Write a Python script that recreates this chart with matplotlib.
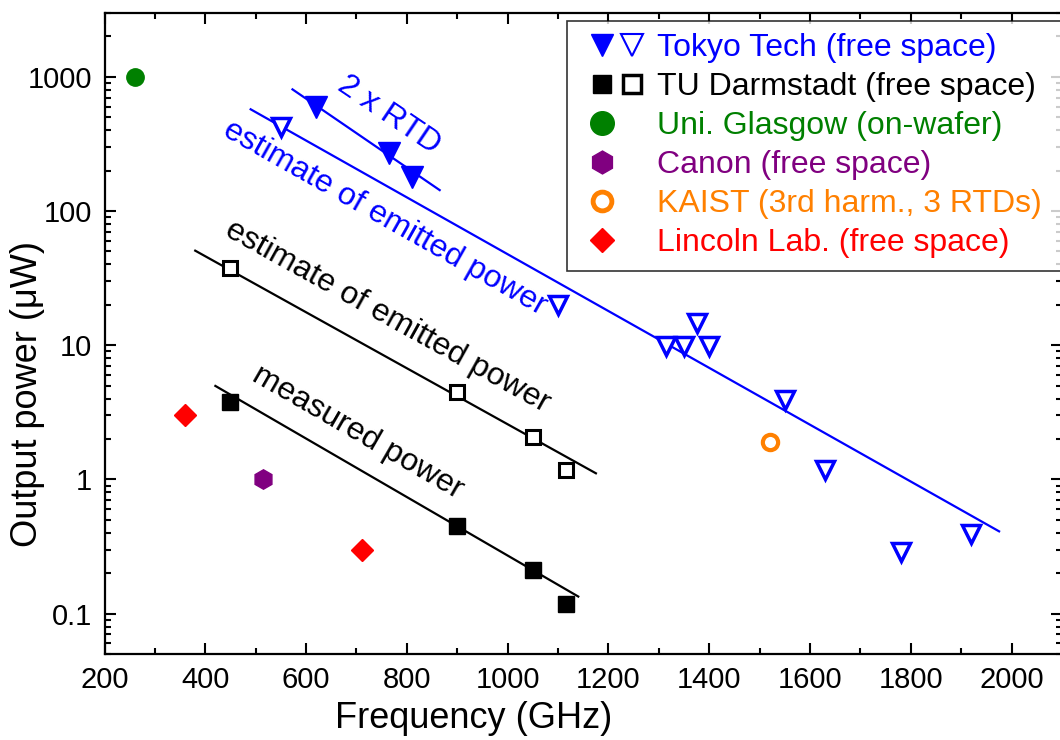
import numpy as np
import matplotlib
matplotlib.use("Agg")
import matplotlib.pyplot as plt
from matplotlib.lines import Line2D
from matplotlib.legend_handler import HandlerTuple
from matplotlib.ticker import LogLocator, MultipleLocator, FixedLocator, FixedFormatter

plt.rcParams['font.family'] = ['Liberation Sans', 'DejaVu Sans']

# Tokyo Tech
tokyo_f_filled = [620, 765, 810]
tokyo_p_filled = [600, 270, 180]
tokyo_f_open = [550, 1100, 1315, 1350, 1375, 1400, 1550, 1630, 1780, 1920]
tokyo_p_open = [420, 20, 9.8, 9.8, 14.7, 9.8, 3.9, 1.18, 0.29, 0.39]

# TU Darmstadt
tud_f = [450, 900, 1050, 1115]
tud_p_filled = [3.8, 0.45, 0.21, 0.117]
tud_p_open = [37.5, 4.5, 2.07, 1.18]

glasgow_f, glasgow_p = [260], [1000]
canon_f, canon_p = [515], [1.0]
kaist_f, kaist_p = [1520], [1.9]
lincoln_f, lincoln_p = [360, 710], [3.0, 0.3]

# guide lines (start, end)
rtd_line_f, rtd_line_p = [573, 865], [805, 143]
tokyo_line_f, tokyo_line_p = [490, 1975], [572, 0.41]
tud_est_line_f, tud_est_line_p = [380, 1175], [50.6, 1.11]
tud_meas_line_f, tud_meas_line_p = [420, 1140], [4.97, 0.134]

blue = '#0000FF'
green = '#008000'
purple = '#800080'
orange = '#FF8000'
red = '#FF0000'

W, H = 1060, 740
fig = plt.figure(figsize=(10.6, 7.4), dpi=100)
ax = fig.add_axes([104.5 / W, 1 - 654 / H, 957.6 / W, (654 - 12.7) / H])

ax.plot(rtd_line_f, rtd_line_p, color=blue, lw=1.6)
ax.plot(tokyo_line_f, tokyo_line_p, color=blue, lw=1.6)
ax.plot(tud_est_line_f, tud_est_line_p, color='black', lw=1.6)
ax.plot(tud_meas_line_f, tud_meas_line_p, color='black', lw=1.6)

ax.plot(tokyo_f_filled, tokyo_p_filled, 'v', color=blue, ms=16.5, ls='none')
ax.plot(tokyo_f_open, tokyo_p_open, 'v', mfc='white', mec=blue, mew=2.5, ms=13, ls='none')
ax.plot(tud_f, tud_p_filled, 's', color='black', ms=11, ls='none')
ax.plot(tud_f, tud_p_open, 's', mfc='white', mec='black', mew=2.2, ms=9.5, ls='none')
ax.plot(glasgow_f, glasgow_p, 'o', color=green, ms=12.5, ls='none')
ax.plot(canon_f, canon_p, 'h', color=purple, ms=14, ls='none')
ax.plot(kaist_f, kaist_p, 'o', mfc='white', mec=orange, mew=3, ms=11, ls='none')
ax.plot(lincoln_f, lincoln_p, 'D', color=red, ms=11, ls='none')

ax.set_yscale('log')
ax.set_xlim(200, 2100)
ax.set_ylim(0.05, 3000)

ax.xaxis.set_major_locator(MultipleLocator(200))
ax.xaxis.set_minor_locator(MultipleLocator(100))
ax.yaxis.set_major_locator(FixedLocator([0.1, 1, 10, 100, 1000]))
ax.yaxis.set_major_formatter(FixedFormatter(['0.1', '1', '10', '100', '1000']))
ax.yaxis.set_minor_locator(LogLocator(base=10, subs=np.arange(2, 10)))
ax.yaxis.set_minor_formatter(plt.NullFormatter())

ax.tick_params(which='both', direction='in', top=True, right=True, width=1.5, labelsize=21, pad=9)
ax.tick_params(which='major', length=8)
ax.tick_params(which='minor', length=4.5)
for s in ax.spines.values():
    s.set_linewidth(1.6)

ax.set_xlabel('Frequency (GHz)', fontsize=26, va='center')
ax.set_ylabel('Output power (μW)', fontsize=26, va='center')
ax.xaxis.set_label_coords(0.385, -(718 - 654) / 641.3)
ax.yaxis.set_label_coords(-(104.5 - 28) / 957.6, 0.405)

# rotated annotations
ax.text(765, 519, '2 x RTD', color=blue, fontsize=23, rotation=-34, ha='center', va='center')
ax.text(756, 88, 'estimate of emitted power', color=blue, fontsize=23, rotation=-29.5,
        ha='center', va='center')
ax.text(762, 16.2, 'estimate of emitted power', color='black', fontsize=23, rotation=-29,
        ha='center', va='center')
ax.text(703, 2.25, 'measured power', color='black', fontsize=23, rotation=-30,
        ha='center', va='center')

# legend
blank = Line2D([], [], ls='none', marker='none')
handles = [
    (Line2D([], [], ls='none', marker='v', color=blue, ms=16.5),
     Line2D([], [], ls='none', marker='v', mfc='white', mec=blue, mew=1.5, ms=16)),
    (Line2D([], [], ls='none', marker='s', color='black', ms=13.5),
     Line2D([], [], ls='none', marker='s', mfc='white', mec='black', mew=2.5, ms=13.5)),
    (Line2D([], [], ls='none', marker='o', color=green, ms=17), blank),
    (Line2D([], [], ls='none', marker='h', color=purple, ms=16.5), blank),
    (Line2D([], [], ls='none', marker='o', mfc='white', mec=orange, mew=3.5, ms=13.5), blank),
    (Line2D([], [], ls='none', marker='D', color=red, ms=12.5), blank),
]
labels = ['Tokyo Tech (free space)', 'TU Darmstadt (free space)', 'Uni. Glasgow (on-wafer)',
          'Canon (free space)', 'KAIST (3rd harm., 3 RTDs)', 'Lincoln Lab. (free space)']
label_colors = [blue, 'black', green, purple, orange, red]

leg = ax.legend(handles, labels,
                handler_map={tuple: HandlerTuple(ndivide=None, pad=0, xpad=0.22)},
                loc='upper left',
                bbox_to_anchor=(566.7 / W, 1 - 266.7 / H, 520 / W, 246 / H),
                bbox_transform=fig.transFigure, mode='expand', borderaxespad=0,
                fontsize=23, frameon=True, fancybox=False, edgecolor='black',
                handlelength=2.12, handletextpad=0.3, borderpad=0.4, labelspacing=0.28)
leg.get_frame().set_linewidth(1.2)
for t, c in zip(leg.get_texts(), label_colors):
    t.set_color(c)

plt.savefig('out.png', dpi=100)
